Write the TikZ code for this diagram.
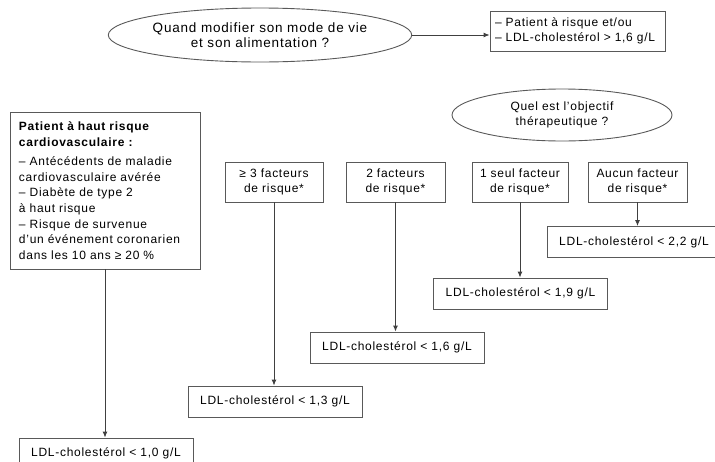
\documentclass[tikz,border=0pt]{standalone}
\usepackage{fontspec}
\setmainfont{Liberation Sans}[LetterSpace=6]
\usetikzlibrary{arrows.meta,shapes.geometric}

\begin{document}
\begin{tikzpicture}[x=1pt, y=-1pt, font=\fontsize{12}{15.6}\selectfont,
        box/.style={draw=black!65, line width=0.9pt, rectangle, inner sep=0pt, align=center},
        bulle/.style={draw=black!65, line width=0.9pt, ellipse, inner sep=0pt, align=center},
        fleche/.style={draw=black!75, line width=0.9pt, -{Latex[length=6pt,width=5pt]}}]
        \useasboundingbox (0,0) rectangle (715,461);

        % questions
        \node[bulle, minimum width=236pt, minimum height=54pt, font=\fontsize{13.5}{15.5}\selectfont] (modif) at (260,35) {Quand modifier son mode de vie\\et son alimentation ?};
        \node[bulle, minimum width=220pt, minimum height=52pt] (objectif) at (562,115) {Quel est l'objectif\\thérapeutique ?};

        \node[box, minimum height=40pt, text width=165pt, inner xsep=5pt, align=left] (critere) at (577.5,31) {– Patient à risque et/ou\\– LDL-cholestérol > 1,6 g/L};

        % haut risque
        \node[box, minimum height=157pt, text width=172pt, inner xsep=9pt, align=left] (haut) at (105,190.5)
            {\textbf{Patient à haut risque}\\\textbf{cardiovasculaire :}\\[4pt]
             – Antécédents de maladie\\cardiovasculaire avérée\\– Diabète de type 2\\à haut risque\\
             – Risque de survenue\\d'un événement coronarien\\dans les 10 ans ≥ 20 \%};

        % facteurs de risque
        \node[box, minimum width=98pt, minimum height=40pt] (trois) at (274,182) {≥ 3 facteurs\\de risque*};
        \node[box, minimum width=99pt, minimum height=40pt] (deux) at (395.5,182) {2 facteurs\\de risque*};
        \node[box, minimum width=96pt, minimum height=40pt] (un) at (520,182) {1 seul facteur\\de risque*};
        \node[box, minimum width=99pt, minimum height=40pt] (aucun) at (637.5,182) {Aucun facteur\\de risque*};

        % objectifs LDL
        \node[box, minimum width=174pt, minimum height=31pt] (ldlA) at (106,453.5) {LDL-cholestérol < 1,0 g/L};
        \node[box, minimum width=174pt, minimum height=31pt] (ldlB) at (275,401.5) {LDL-cholestérol < 1,3 g/L};
        \node[box, minimum width=174pt, minimum height=31pt] (ldlC) at (397,347.5) {LDL-cholestérol < 1,6 g/L};
        \node[box, minimum width=174pt, minimum height=31pt] (ldlD) at (520.5,293.5) {LDL-cholestérol < 1,9 g/L};
        \node[box, minimum width=174pt, minimum height=31pt] (ldlE) at (634,242) {LDL-cholestérol < 2,2 g/L};

        \draw[fleche] (modif.east) -- (modif.east -| critere.west);
        \draw[fleche] (haut.south) -- (haut.south |- ldlA.north);
        \draw[fleche] (trois.south) -- (trois.south |- ldlB.north);
        \draw[fleche] (deux.south) -- (deux.south |- ldlC.north);
        \draw[fleche] (un.south) -- (un.south |- ldlD.north);
        \draw[fleche] (aucun.south) -- (aucun.south |- ldlE.north);
\end{tikzpicture}
\end{document}
